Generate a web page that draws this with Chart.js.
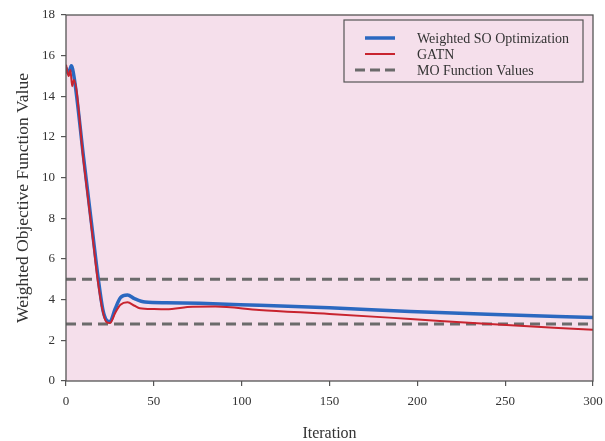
<!DOCTYPE html>
<html>
<head>
<meta charset="utf-8">
<script src="https://cdn.jsdelivr.net/npm/chart.js@4.4.1/dist/chart.umd.min.js"></script>
<style>
  html, body { margin: 0; padding: 0; background: #ffffff; }
  #wrap { width: 605px; height: 441px; }
</style>
</head>
<body>
<div id="wrap"><canvas id="chart" width="605" height="441"></canvas></div>
<script>
// data
const soIter  = [0, 1.5, 3, 4.5, 10, 15, 18.4, 21, 23, 25, 28, 31, 35, 39, 45, 57, 76, 110, 150, 196, 240, 300];
const soValue = [15.4, 15.1, 15.5, 15.0, 11.0, 7.4, 5.0, 3.5, 3.0, 2.92, 3.55, 4.1, 4.23, 4.05, 3.88, 3.85, 3.82, 3.72, 3.6, 3.42, 3.28, 3.12];

const gatnIter  = [0, 1.5, 2.5, 3.5, 4.5, 10, 15, 18, 21, 23, 25, 28, 31, 35, 39, 42, 50, 57, 72, 85, 110, 150, 196, 241, 300];
const gatnValue = [15.55, 15.0, 15.3, 14.5, 14.8, 10.8, 7.2, 5.0, 3.4, 2.9, 2.85, 3.35, 3.75, 3.87, 3.7, 3.58, 3.54, 3.53, 3.65, 3.66, 3.49, 3.3, 3.05, 2.8, 2.52];

const moValues = [5.0, 2.8];
const iterRange = [0, 300];

const seriesLabels = ["Weighted SO Optimization", "GATN", "MO Function Values"];

const FONT = "'Liberation Serif', 'Times New Roman', serif";
const BLUE = "#2b68c0";
const RED = "#c8242f";
const GRAY = "#6b6b6b";
const PINK = "#f5dfeb";
const AXIS = "#555555";

function toPoints(xs, ys) {
    return xs.map((x, i) => ({ x: x, y: ys[i] }));
}

// pink plot area + frame
const plotFrame = {
    id: "plotFrame",
    beforeDraw(chart) {
        const { ctx, chartArea: a } = chart;
        ctx.save();
        ctx.fillStyle = PINK;
        ctx.fillRect(a.left, a.top, a.right - a.left, a.bottom - a.top);
        ctx.restore();
    },
    afterDraw(chart) {
        const { ctx, chartArea: a } = chart;
        ctx.save();
        ctx.strokeStyle = AXIS;
        ctx.lineWidth = 1.3;
        ctx.strokeRect(a.left, a.top, a.right - a.left, a.bottom - a.top);
        ctx.restore();
    }
};

// boxed legend inside the plot, top right
const boxLegend = {
    id: "boxLegend",
    afterDraw(chart) {
        const ctx = chart.ctx;
        const x0 = 344, y0 = 20, w = 239, h = 62;
        ctx.save();
        ctx.fillStyle = PINK;
        ctx.fillRect(x0, y0, w, h);
        ctx.strokeStyle = AXIS;
        ctx.lineWidth = 1.2;
        ctx.strokeRect(x0, y0, w, h);

        const items = [
            { label: seriesLabels[0], color: BLUE, width: 3.5, dash: [], from: 365, to: 395 },
            { label: seriesLabels[1], color: RED, width: 2, dash: [], from: 365, to: 395 },
            { label: seriesLabels[2], color: GRAY, width: 3, dash: [10, 5], from: 355, to: 400 }
        ];
        items.forEach((it, i) => {
            const y = 38 + i * 16;
            ctx.beginPath();
            ctx.strokeStyle = it.color;
            ctx.lineWidth = it.width;
            ctx.setLineDash(it.dash);
            ctx.moveTo(it.from, y);
            ctx.lineTo(it.to, y);
            ctx.stroke();
            ctx.setLineDash([]);
            ctx.fillStyle = "#333333";
            ctx.font = "14px " + FONT;
            ctx.textBaseline = "middle";
            ctx.textAlign = "left";
            ctx.fillText(it.label, 417, y + 1);
        });
        ctx.restore();
    }
};

const datasets = [
    {
        label: seriesLabels[0],
        data: toPoints(soIter, soValue),
        borderColor: BLUE,
        borderWidth: 3.5,
        pointRadius: 0,
        cubicInterpolationMode: "monotone",
        order: 1
    },
    {
        label: seriesLabels[1],
        data: toPoints(gatnIter, gatnValue),
        borderColor: RED,
        borderWidth: 2,
        pointRadius: 0,
        cubicInterpolationMode: "monotone",
        order: 0
    }
];

moValues.forEach(v => {
    datasets.push({
        label: seriesLabels[2],
        data: iterRange.map(x => ({ x: x, y: v })),
        borderColor: GRAY,
        borderWidth: 3,
        borderDash: [10, 6],
        pointRadius: 0,
        order: 2
    });
});

new Chart(document.getElementById("chart"), {
    type: "line",
    data: { datasets: datasets },
    options: {
        responsive: false,
        animation: false,
        layout: { padding: { left: 0, top: 15, right: 12, bottom: 0 } },
        plugins: {
            legend: { display: false },
            tooltip: { enabled: false }
        },
        scales: {
            x: {
                type: "linear",
                min: 0,
                max: 300,
                afterFit(scale) {
                    scale.height = 60;
                    scale.paddingLeft = 0;
                    scale.paddingRight = 0;
                },
                border: { display: false },
                grid: { drawOnChartArea: false, drawTicks: true, tickLength: 5, color: AXIS, lineWidth: 1.2 },
                ticks: { stepSize: 50, padding: 8, color: "#333333", font: { family: FONT, size: 13 } },
                title: { display: true, text: "Iteration", color: "#333333", padding: { top: 0, bottom: -2 }, font: { family: FONT, size: 16 } }
            },
            y: {
                min: 0,
                max: 18,
                afterFit(scale) { scale.width = 66; },
                border: { display: false },
                grid: { drawOnChartArea: false, drawTicks: true, tickLength: 5, color: AXIS, lineWidth: 1.2 },
                ticks: { stepSize: 2, padding: 6, color: "#333333", font: { family: FONT, size: 13 } },
                title: { display: true, text: "Weighted Objective Function Value", color: "#333333", padding: { top: 12.5, bottom: 0 }, font: { family: FONT, size: 17.5 } }
            }
        }
    },
    plugins: [plotFrame, boxLegend]
});
</script>
</body>
</html>
